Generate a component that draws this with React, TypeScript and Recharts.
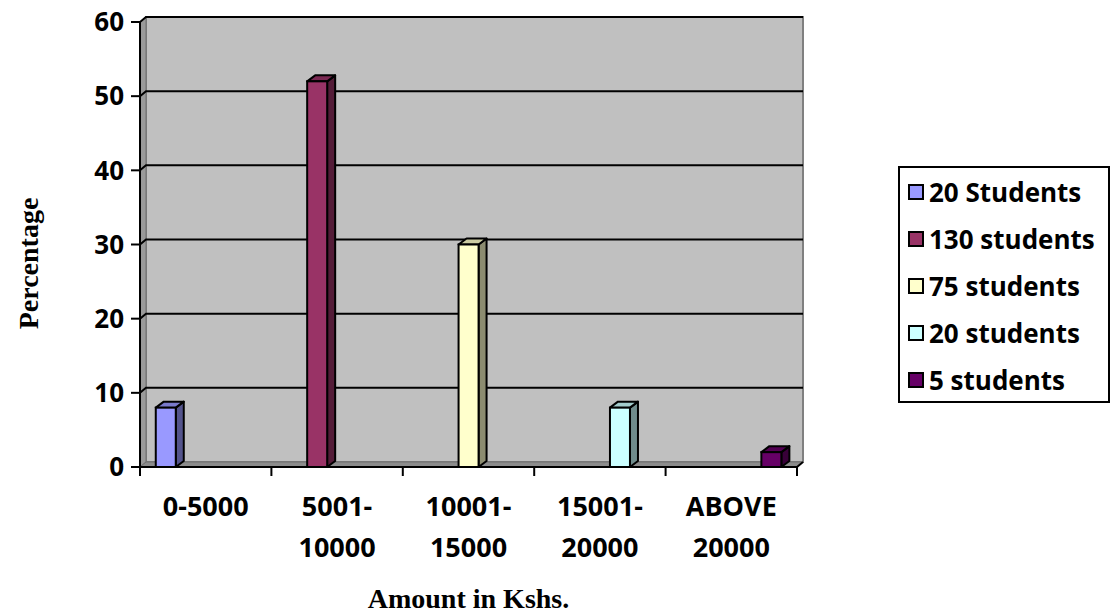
import React from 'react'
import { BarChart, Bar, XAxis, YAxis, CartesianGrid } from 'recharts'

const categories = ['0-5000', '5001-\n10000', '10001-\n15000', '15001-\n20000', 'ABOVE\n20000']
const seriesNames = ['20 Students', '130 students', '75 students', '20 students', '5 students']
const percentages = [8, 52, 30, 8, 2]
const seriesColors = ['#9999FF', '#993366', '#FFFFCC', '#CCFFFF', '#660066']
const yTicks = [0, 10, 20, 30, 40, 50, 60]

// each series only has a value in its own category (Excel clustered layout)
const data = categories.map((name, i) => {
  const row: Record<string, any> = { name }
  seriesNames.forEach((_, j) => { row['s' + j] = i === j ? percentages[j] : null })
  return row
})

const DX = 6   // wall depth
const DY = 5
const BDX = 8  // bar depth
const BDY = 6
const TICK_FONT = "'Open Sans', sans-serif"
const TITLE_FONT = "'Liberation Serif', serif"

function shade(hex: string, f: number) {
  const n = parseInt(hex.slice(1), 16)
  const r = Math.round(((n >> 16) & 255) * f)
  const g = Math.round(((n >> 8) & 255) * f)
  const b = Math.round((n & 255) * f)
  return `rgb(${r},${g},${b})`
}

function Bar3D(props: any) {
  const { x, y, width, height, fill } = props
  if (!height || height <= 0) return null
  const top = `${x},${y} ${x + BDX},${y - BDY} ${x + width + BDX},${y - BDY} ${x + width},${y}`
  const side = `${x + width},${y} ${x + width + BDX},${y - BDY} ${x + width + BDX},${y + height - BDY} ${x + width},${y + height}`
  return (
    <g>
      <polygon points={side} fill={shade(fill, 0.55)} stroke="#000" strokeWidth={2} strokeLinejoin="round" />
      <polygon points={top} fill={shade(fill, 0.8)} stroke="#000" strokeWidth={2} strokeLinejoin="round" />
      <rect x={x} y={y} width={width} height={height} fill={fill} stroke="#000" strokeWidth={2} />
    </g>
  )
}

function GridLine(p: any) {
  const { x1, x2, y1, index, x, y, width, height } = p
  const bottom = y + height
  return (
    <g key={p.key}>
      {index === 0 && (
        <g>
          <rect x={x + DX} y={y - DY} width={width} height={height} fill="#C0C0C0" stroke="#808080" strokeWidth={2} />
          <polygon points={`${x},${y} ${x + DX},${y - DY} ${x + DX},${bottom - DY} ${x},${bottom}`} fill="#9a9a9a" stroke="#707070" strokeWidth={1} />
          <polygon points={`${x},${bottom} ${x + DX},${bottom - DY} ${x + width + DX},${bottom - DY} ${x + width},${bottom}`} fill="#8c8c8c" stroke="#707070" strokeWidth={1} />
          <line x1={x + width} y1={bottom} x2={x + width + DX} y2={bottom - DY} stroke="#000" strokeWidth={2} />
        </g>
      )}
      {y1 < bottom - 1 && (
        <polyline points={`${x1},${y1} ${x1 + DX},${y1 - DY} ${x2 + DX},${y1 - DY}`} stroke="#000" strokeWidth={2} fill="none" />
      )}
    </g>
  )
}

function XTick(props: any) {
  const { x, y, payload, index, visibleTicksCount } = props
  const half = payload?.offset ?? 65.7
  const lines = String(payload.value).split('\n')
  return (
    <g>
      <line x1={x - half} y1={y} x2={x - half} y2={y + 9} stroke="#000" strokeWidth={2} />
      {index === visibleTicksCount - 1 && (
        <line x1={x + half} y1={y} x2={x + half} y2={y + 9} stroke="#000" strokeWidth={2} />
      )}
      {lines.map((t, i) => (
        <text key={i} x={x} y={y + 49 + i * 41} textAnchor="middle" fontFamily={TICK_FONT} fontWeight={700} fontSize={27} fill="#000">
          {t}
        </text>
      ))}
    </g>
  )
}

export default function App() {
  return (
    <div style={{ position: 'absolute', left: 0, top: 0, width: 1115, height: 616, background: '#fff' }}>
      <BarChart width={1115} height={616} data={data} margin={{ top: 22, right: 318, bottom: 0, left: 0 }}
        barCategoryGap="12%" barGap={0}>
        <CartesianGrid vertical={false} horizontal={(p: any) => <GridLine {...p} />} />
        <XAxis dataKey="name" height={149} axisLine={{ stroke: '#000', strokeWidth: 2 }} tickLine={false}
          tickSize={0} tickMargin={0} interval={0} tick={<XTick />}
          label={{
            content: (lp: any) => {
              const vb = lp.viewBox
              return (
                <text x={vb.x + vb.width / 2} y={608} textAnchor="middle" fontFamily={TITLE_FONT} fontWeight={700} fontSize={28} fill="#000">
                  Amount in Kshs.
                </text>
              )
            },
          }} />
        <YAxis width={140} domain={[0, 60]} ticks={yTicks} interval={0} axisLine={{ stroke: '#000', strokeWidth: 2 }}
          tickLine={{ stroke: '#000', strokeWidth: 2 }} tickSize={9} tickMargin={7}
          tick={{ fontFamily: TICK_FONT, fontWeight: 700, fontSize: 26, fill: '#000' }}
          label={{
            content: (lp: any) => {
              const vb = lp.viewBox
              const cy = vb.y + vb.height / 2 + 19
              return (
                <text x={38} y={cy} transform={`rotate(-90, 38, ${cy})`} textAnchor="middle" fontFamily={TITLE_FONT} fontWeight={700} fontSize={28} fill="#000">
                  Percentage
                </text>
              )
            },
          }} />
        {seriesNames.map((s, j) => (
          <Bar key={s} dataKey={'s' + j} name={s} fill={seriesColors[j]} shape={<Bar3D />} isAnimationActive={false} />
        ))}
      </BarChart>
      <div style={{
        position: 'absolute', left: 898, top: 166, width: 208, height: 233, border: '2px solid #000',
        background: '#fff', fontFamily: TICK_FONT, fontWeight: 700, fontSize: 26, color: '#000',
        boxSizing: 'content-box',
      }}>
        {seriesNames.map((s, j) => (
          <div key={s} style={{ height: 47, display: 'flex', alignItems: 'center', paddingLeft: 8 }}>
            <span style={{ width: 12, height: 12, border: '2px solid #000', background: seriesColors[j], marginRight: 5, flex: 'none' }} />
            <span style={{ whiteSpace: 'nowrap' }}>{s}</span>
          </div>
        ))}
      </div>
    </div>
  )
}
